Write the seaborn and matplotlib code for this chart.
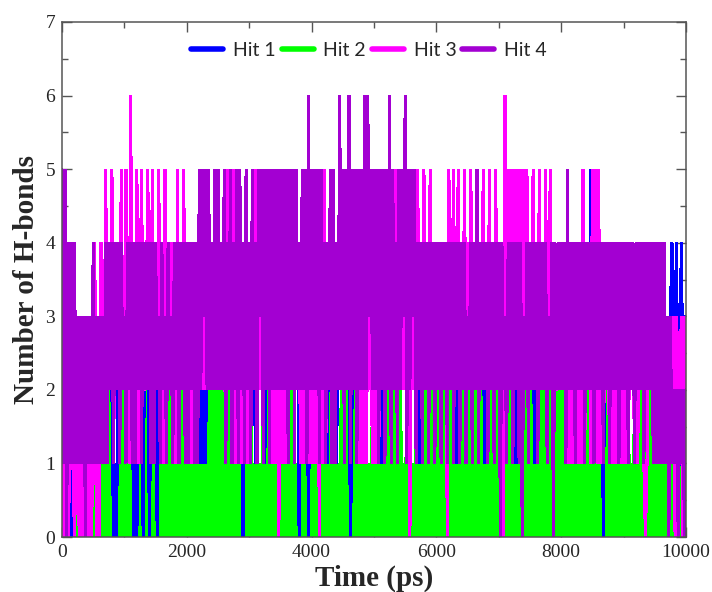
import numpy as np
import pandas as pd
import matplotlib
matplotlib.use("Agg")
import matplotlib.pyplot as plt
from matplotlib.lines import Line2D
from matplotlib.ticker import MultipleLocator
import seaborn as sns

# H-bond count per frame, one frame every 25 ps, one string per 1000 ps
STEP_PS = 25

HIT1_ROWS = [
    "2323230323" "2323202323" "2323232323" "2320103232",
    "3232320103" "2303230232" "3032323232" "3232323232",
    "3232323213" "1313232323" "2323232323" "2323230323",
    "2323132323" "1323232323" "2323232323" "2303232303",
    "2323232323" "1323231323" "2323202323" "2323232323",
    "2323213232" "3232323232" "3232323231" "3232323232",
    "3232323232" "3231323232" "3232323232" "3132323232",
    "3232323232" "3132323232" "3231323232" "3232323232",
    "3232323232" "3232323235" "3232323032" "3232323232",
    "3232323231" "3232323232" "3232323232" "34234024233",
]

HIT2_ROWS = [
    "0102010102" "0101020101" "0201010201" "0201010202",
    "0102010102" "0102020102" "0102010102" "0102010201",
    "0101010202" "0202020202" "0202010201" "0102010101",
    "0201020102" "0201010101" "0101020201" "0101020101",
    "0101010201" "0201010102" "0102010201" "0102010102",
    "0101010202" "0102010201" "0201010201" "0202010201",
    "0201020102" "0101010201" "0201020102" "0101020102",
    "0102010201" "0101010201" "0201010202" "0102010202",
    "0202010102" "0101010201" "0101020102" "0101020101",
    "0102010201" "0201020201" "0102010101" "01010101010",
]

HIT3_ROWS = [
    "1020012101" "2010211020" "2402041252" "3251323252",
    "3521623251" "3522352351" "3252315232" "4231523252",
    "3231323232" "3232323232" "3232315232" "5132313231",
    "3232523232" "3232313130" "3131323232" "3231313131",
    "3131303151" "3232323232" "3232323232" "3131313231",
    "3131323232" "3232523232" "3230323252" "3252325232",
    "3232323052" "3523523252" "4253323232" "5232523252",
    "3230635353" "5353535253" "2352325232" "5235232232",
    "3232313132" "3131513231" "5151513132" "3131313131",
    "3131323131" "3231013232" "3232323232" "22303223032",
]

HIT4_ROWS = [
    "5150414141" "3131303131" "4131313141" "4241424142",
    "3142414142" "4142424141" "4231423142" "3142414241",
    "4142414152" "5352524252" "5242514251" "4251524152",
    "4152415351" "5251525252" "5252515251" "5242525162",
    "5252515241" "4251514262" "5152615251" "5252626352",
    "5251525152" "6152415253" "6152535142" "4142414241",
    "4241424142" "4142414241" "3241425142" "4241424142",
    "4042314241" "4241403241" "4242414242" "4132404242",
    "4241524241" "4242414242" "4142424142" "4142424142",
    "4241424142" "4241424241" "4141414130" "31212021202",
]

HITS = ["Hit 1", "Hit 2", "Hit 3", "Hit 4"]
COLORS = {"Hit 1": "#0000ff", "Hit 2": "#00ff00", "Hit 3": "#ff00ff", "Hit 4": "#a300d2"}
# order the traces are stacked on the canvas (last one on top)
DRAW_ORDER = ["Hit 2", "Hit 1", "Hit 3", "Hit 4"]


def trace(rows, name):
    counts = [int(c) for c in "".join(rows)]
    return pd.DataFrame({
        "time": np.arange(len(counts)) * STEP_PS,
        "hbonds": counts,
        "hit": name,
    })


df = pd.concat([
    trace(HIT1_ROWS, "Hit 1"),
    trace(HIT2_ROWS, "Hit 2"),
    trace(HIT3_ROWS, "Hit 3"),
    trace(HIT4_ROWS, "Hit 4"),
], ignore_index=True)

sns.set_theme(style="ticks")
plt.rcParams["font.family"] = ["Liberation Serif", "DejaVu Serif"]
plt.rcParams["path.simplify"] = False

fig = plt.figure(figsize=(7.12, 5.92), dpi=100)
ax = fig.add_axes([62 / 712, 55 / 592, 624 / 712, 515 / 592])

sns.lineplot(
    data=df, x="time", y="hbonds", hue="hit",
    hue_order=DRAW_ORDER, palette=COLORS,
    estimator=None, linewidth=1.5, legend=False, ax=ax,
)
# dense traces: no antialiasing so the bands come out solid
for line in ax.lines:
    line.set_antialiased(False)
    line.set_solid_joinstyle("miter")

ax.set_xlim(0, 10000)
ax.set_ylim(0, 7)
ax.xaxis.set_major_locator(MultipleLocator(2000))
ax.xaxis.set_minor_locator(MultipleLocator(1000))
ax.yaxis.set_major_locator(MultipleLocator(1))
ax.yaxis.set_minor_locator(MultipleLocator(0.5))
ax.tick_params(which="both", direction="in", top=True, right=True,
               color="#555555", width=1.0)
ax.tick_params(which="major", length=7, labelsize=14, pad=5)
ax.tick_params(which="minor", length=4)
for s in ax.spines.values():
    s.set_color("#555555")
    s.set_linewidth(1.1)
    s.set_zorder(5)

ax.set_xlabel("Time (ps)", fontsize=21, fontweight="bold", labelpad=3)
ax.set_ylabel("Number of H-bonds", fontsize=21, fontweight="bold", labelpad=4)

handles = [Line2D([0], [0], color=COLORS[h], lw=4) for h in HITS]
ax.legend(handles, HITS, loc="center", bbox_to_anchor=(0.492, 0.945),
          ncol=4, frameon=False, handlelength=1.65, handletextpad=0.5,
          columnspacing=0.3, prop={"family": "Lato", "size": 14})

fig.savefig("out.png", dpi=100)
